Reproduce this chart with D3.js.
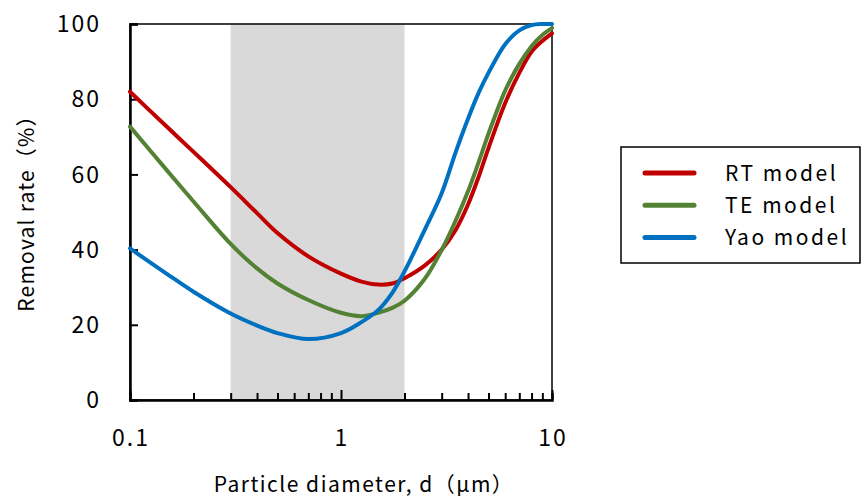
<!DOCTYPE html>
<html>
<head>
<meta charset="utf-8">
<script src="https://cdn.jsdelivr.net/npm/d3@7"></script>
<style>
  body { margin: 0; background: #fff; }
  text { font-family: "Noto Sans CJK JP", "Noto Sans", sans-serif; fill: #000; }
</style>
</head>
<body>
<div id="chart"></div>
<script>
// values
const diameter = [0.1, 0.15, 0.2, 0.3, 0.4, 0.5, 0.7, 1, 1.25, 1.5, 1.75, 2, 2.5, 3, 3.5, 4, 4.5, 5, 6, 7, 8, 9, 10];
const rtModel  = [82, 72.6, 66, 56.6, 49.7, 44.4, 38.2, 33.6, 31.5, 30.7, 31, 32.4, 35.8, 40, 45.3, 52, 59.5, 67, 79, 87, 92.6, 95.5, 97.5];
const teModel  = [72.7, 61, 52.8, 41.5, 35, 31, 26.6, 23.2, 22.3, 23.2, 24.5, 26.4, 32.3, 39.9, 47.8, 55.5, 63.4, 70.8, 82.3, 89.4, 94.1, 97.1, 98.9];
const yaoModel = [40.3, 33.5, 28.8, 23, 19.8, 17.8, 16.2, 17.8, 20.7, 23.9, 28.5, 34.2, 45.4, 55, 66, 74.8, 81.8, 87, 94.6, 98.3, 99.7, 100, 100];
const seriesNames = ['RT model', 'TE model', 'Yao model'];
const seriesColors = ['#c00000', '#548235', '#0070c0'];
const xTickLabels = [0.1, 1, 10];
const yTicks = [0, 20, 40, 60, 80, 100];
const band = [0.3, 2];

const width = 862, height = 499;
const margin = { left: 130, right: 310, top: 24, bottom: 99 };

const svg = d3.select('#chart').append('svg')
    .attr('width', width)
    .attr('height', height);

const x = d3.scaleLog()
    .domain([0.1, 10])
    .range([margin.left, width - margin.right]);
const y = d3.scaleLinear()
    .domain([0, 100])
    .range([height - margin.bottom, margin.top]);

// shaded range
svg.append('rect')
    .attr('x', x(band[0]))
    .attr('y', y(100))
    .attr('width', x(band[1]) - x(band[0]))
    .attr('height', y(0) - y(100))
    .style('fill', '#d9d9d9');

// frame
svg.append('rect')
    .attr('x', x(0.1))
    .attr('y', y(100))
    .attr('width', x(10) - x(0.1))
    .attr('height', y(0) - y(100))
    .style('fill', 'none')
    .style('stroke', '#000')
    .style('stroke-width', 1.5);

// y axis, ticks inside
const yAxis = d3.axisRight(y).tickValues(yTicks).tickSize(8).tickFormat('');
const gy = svg.append('g')
    .attr('transform', `translate(${x(0.1)},0)`)
    .call(yAxis);
gy.select('.domain').attr('stroke-width', 2.5);
gy.selectAll('.tick line').attr('stroke-width', 2);

svg.selectAll('.ylab')
    .data(yTicks)
    .enter().append('text')
    .attr('class', 'ylab')
    .attr('x', 101)
    .attr('y', d => y(d))
    .attr('dy', '0.36em')
    .attr('text-anchor', 'end')
    .style('font-size', '23px')
    .style('letter-spacing', '2px')
    .text(d => d);

// x axis, minor ticks pointing up
const allTicks = x.ticks();
const gx = svg.append('g')
    .attr('transform', `translate(0,${y(0)})`)
    .call(d3.axisTop(x).tickValues(allTicks).tickSize(7).tickFormat(''));
gx.select('.domain').attr('stroke-width', 2.5);
gx.selectAll('.tick line')
    .attr('stroke-width', 2)
    .attr('y2', d => xTickLabels.includes(d) ? -10 : -7);

svg.selectAll('.xlab')
    .data(xTickLabels)
    .enter().append('text')
    .attr('class', 'xlab')
    .attr('x', d => x(d) + 1)
    .attr('y', 446)
    .attr('text-anchor', 'middle')
    .style('font-size', '23px')
    .style('letter-spacing', '2px')
    .text(d => d);

// curves
const series = [rtModel, teModel, yaoModel];
const line = d3.line()
    .x((d, i) => x(diameter[i]))
    .y(d => y(d))
    .curve(d3.curveCatmullRom.alpha(0.5));

svg.selectAll('.curve')
    .data(series)
    .enter().append('path')
    .attr('class', 'curve')
    .attr('d', line)
    .style('fill', 'none')
    .style('stroke', (d, i) => seriesColors[i])
    .style('stroke-width', 4)
    .style('stroke-linecap', 'round');

// axis titles
svg.append('text')
    .attr('x', 364)
    .attr('y', 492)
    .attr('text-anchor', 'middle')
    .style('font-size', '21px')
    .style('letter-spacing', '1.5px')
    .text('Particle diameter, d（μm）');

svg.append('text')
    .attr('transform', 'translate(34,208) rotate(-90)')
    .attr('text-anchor', 'middle')
    .style('font-size', '21px')
    .style('letter-spacing', '1.2px')
    .text('Removal rate（%）');

// legend
const legend = svg.append('g').attr('transform', 'translate(621,147)');
legend.append('rect')
    .attr('width', 239)
    .attr('height', 116)
    .style('fill', '#fff')
    .style('stroke', '#000')
    .style('stroke-width', 1.5);

const item = legend.selectAll('.item')
    .data(seriesNames)
    .enter().append('g')
    .attr('class', 'item')
    .attr('transform', (d, i) => `translate(0,${26 + i * 32.3})`);
item.append('line')
    .attr('x1', 24).attr('x2', 73)
    .style('stroke', (d, i) => seriesColors[i])
    .style('stroke-width', 5)
    .style('stroke-linecap', 'round');
item.append('text')
    .attr('x', 104)
    .attr('dy', '0.36em')
    .style('font-size', '21px')
    .style('letter-spacing', '2.5px')
    .text(d => d);
</script>
</body>
</html>
